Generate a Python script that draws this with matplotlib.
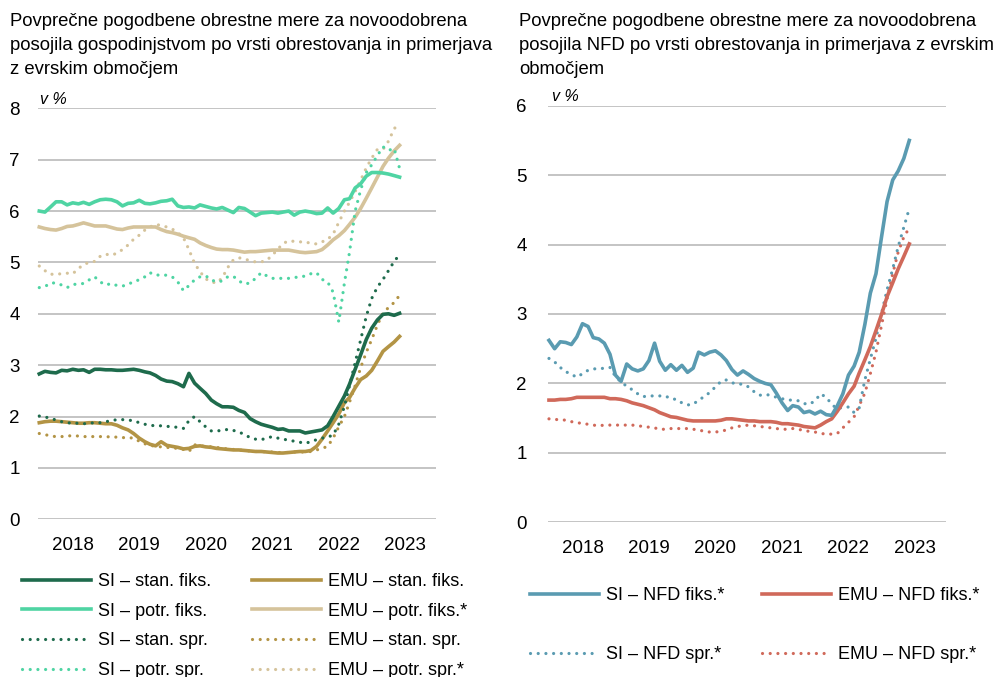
import numpy as np
import pandas as pd
import matplotlib
matplotlib.use("Agg")
import matplotlib.pyplot as plt

plt.rcParams['font.family'] = ['Liberation Sans', 'DejaVu Sans']

# monthly data, Jul 2017 - Dec 2022
dates = pd.date_range('2017-07-01', periods=66, freq='MS')

si_stan_fiks = [2.83, 2.88, 2.86, 2.85, 2.90, 2.89, 2.92, 2.90, 2.91, 2.86, 2.92, 2.92,
                2.91, 2.91, 2.90, 2.90, 2.91, 2.92, 2.90, 2.87, 2.85, 2.80, 2.73, 2.69,
                2.68, 2.64, 2.58, 2.84, 2.65, 2.55, 2.45, 2.32, 2.25, 2.19, 2.19, 2.18,
                2.12, 2.08, 1.96, 1.90, 1.85, 1.82, 1.79, 1.75, 1.76, 1.72, 1.72, 1.72,
                1.68, 1.70, 1.72, 1.74, 1.82, 2.00, 2.20, 2.40, 2.63, 2.92, 3.20, 3.50,
                3.72, 3.88, 3.99, 4.00, 3.97, 4.01]
si_potr_fiks = [6.00, 5.98, 6.08, 6.18, 6.18, 6.12, 6.16, 6.14, 6.17, 6.13, 6.18, 6.22,
                6.23, 6.22, 6.18, 6.10, 6.15, 6.16, 6.21, 6.15, 6.14, 6.16, 6.19, 6.20,
                6.23, 6.10, 6.07, 6.08, 6.06, 6.12, 6.09, 6.06, 6.04, 6.07, 6.02, 5.97,
                6.07, 6.05, 5.98, 5.91, 5.96, 5.97, 5.98, 5.96, 5.98, 6.00, 5.92, 5.98,
                6.00, 5.98, 5.95, 5.96, 6.06, 5.96, 6.05, 6.22, 6.24, 6.45, 6.53, 6.68,
                6.75, 6.75, 6.74, 6.72, 6.69, 6.66]
si_stan_spr = [2.01, 1.99, 1.97, 1.93, 1.90, 1.88, 1.87, 1.87, 1.86, 1.87, 1.88, 1.88,
               1.90, 1.92, 1.94, 1.94, 1.93, 1.92, 1.88, 1.85, 1.83, 1.82, 1.82, 1.81,
               1.80, 1.79, 1.77, 1.92, 2.00, 1.90, 1.80, 1.72, 1.72, 1.73, 1.75, 1.73,
               1.70, 1.65, 1.59, 1.56, 1.55, 1.58, 1.61, 1.58, 1.56, 1.54, 1.52, 1.50,
               1.48, 1.51, 1.55, 1.58, 1.60, 1.64, 1.85, 2.20, 2.60, 3.05, 3.49, 3.95,
               4.30, 4.52, 4.67, 4.84, 5.02, 5.15]
si_potr_spr = [4.51, 4.53, 4.60, 4.60, 4.56, 4.51, 4.57, 4.58, 4.59, 4.66, 4.72, 4.62,
               4.56, 4.59, 4.55, 4.54, 4.57, 4.63, 4.66, 4.72, 4.80, 4.75, 4.76, 4.75,
               4.72, 4.62, 4.45, 4.55, 4.66, 4.72, 4.74, 4.66, 4.62, 4.64, 4.72, 4.73,
               4.64, 4.58, 4.60, 4.69, 4.80, 4.74, 4.69, 4.69, 4.69, 4.69, 4.70, 4.73,
               4.73, 4.78, 4.80, 4.67, 4.62, 4.42, 3.84, 4.60, 5.20, 6.00, 6.41, 6.75,
               6.90, 7.08, 7.25, 7.18, 7.22, 6.83]
emu_stan_fiks = [1.88, 1.90, 1.91, 1.91, 1.90, 1.89, 1.88, 1.87, 1.87, 1.88, 1.88, 1.87,
                 1.86, 1.86, 1.83, 1.78, 1.74, 1.67, 1.58, 1.51, 1.46, 1.43, 1.51, 1.44,
                 1.42, 1.40, 1.37, 1.38, 1.42, 1.43, 1.41, 1.40, 1.38, 1.37, 1.36, 1.35,
                 1.35, 1.34, 1.33, 1.32, 1.32, 1.31, 1.30, 1.29, 1.29, 1.30, 1.31, 1.32,
                 1.32, 1.34, 1.42, 1.56, 1.72, 1.88, 2.05, 2.27, 2.37, 2.56, 2.72, 2.79,
                 2.90, 3.08, 3.27, 3.36, 3.45, 3.56]
emu_potr_fiks = [5.69, 5.66, 5.64, 5.63, 5.66, 5.70, 5.71, 5.74, 5.77, 5.74, 5.71, 5.71,
                 5.71, 5.68, 5.65, 5.64, 5.67, 5.69, 5.69, 5.69, 5.69, 5.69, 5.64, 5.60,
                 5.58, 5.55, 5.51, 5.48, 5.45, 5.38, 5.33, 5.29, 5.26, 5.25, 5.25, 5.24,
                 5.22, 5.20, 5.21, 5.21, 5.22, 5.23, 5.24, 5.24, 5.24, 5.24, 5.22, 5.20,
                 5.19, 5.20, 5.21, 5.25, 5.34, 5.44, 5.52, 5.62, 5.74, 5.88, 6.05, 6.25,
                 6.45, 6.66, 6.87, 7.03, 7.17, 7.28]
emu_stan_spr = [1.67, 1.65, 1.62, 1.61, 1.61, 1.62, 1.63, 1.62, 1.61, 1.61, 1.61, 1.61,
                1.61, 1.60, 1.60, 1.59, 1.59, 1.58, 1.52, 1.47, 1.44, 1.42, 1.41, 1.40,
                1.39, 1.38, 1.36, 1.32, 1.45, 1.43, 1.42, 1.41, 1.40, 1.38, 1.37, 1.36,
                1.35, 1.34, 1.33, 1.32, 1.32, 1.31, 1.31, 1.30, 1.30, 1.30, 1.31, 1.31,
                1.31, 1.32, 1.35, 1.38, 1.42, 1.58, 1.80, 2.00, 2.28, 2.60, 2.95, 3.25,
                3.50, 3.78, 4.02, 4.12, 4.22, 4.36]
emu_potr_spr = [4.93, 4.84, 4.77, 4.77, 4.78, 4.79, 4.78, 4.88, 4.96, 5.00, 5.02, 5.12,
                5.16, 5.14, 5.18, 5.25, 5.34, 5.45, 5.53, 5.63, 5.69, 5.74, 5.72, 5.69,
                5.65, 5.58, 5.48, 5.25, 4.98, 4.82, 4.68, 4.62, 4.60, 4.70, 4.90, 5.05,
                5.09, 5.07, 5.03, 5.01, 5.01, 5.04, 5.14, 5.26, 5.37, 5.42, 5.41, 5.40,
                5.40, 5.37, 5.36, 5.40, 5.45, 5.55, 5.78, 6.00, 6.17, 6.38, 6.60, 6.84,
                7.03, 7.20, 7.20, 7.36, 7.60, 7.72]

si_nfd_fiks = [2.62, 2.50, 2.60, 2.59, 2.56, 2.67, 2.86, 2.82, 2.66, 2.64, 2.58, 2.42,
               2.12, 2.03, 2.28, 2.21, 2.18, 2.21, 2.33, 2.58, 2.32, 2.19, 2.27, 2.19,
               2.26, 2.16, 2.22, 2.45, 2.41, 2.45, 2.47, 2.41, 2.33, 2.20, 2.12, 2.18,
               2.13, 2.07, 2.03, 2.00, 1.98, 1.86, 1.72, 1.61, 1.68, 1.66, 1.58, 1.60,
               1.56, 1.60, 1.55, 1.54, 1.68, 1.85, 2.12, 2.25, 2.45, 2.85, 3.30, 3.58,
               4.10, 4.62, 4.93, 5.06, 5.24, 5.50]
si_nfd_spr = [2.36, 2.31, 2.23, 2.17, 2.13, 2.09, 2.14, 2.19, 2.21, 2.21, 2.22, 2.23,
              2.10, 2.02, 1.96, 1.91, 1.85, 1.81, 1.82, 1.82, 1.82, 1.82, 1.78, 1.77,
              1.72, 1.69, 1.70, 1.76, 1.81, 1.87, 1.95, 2.03, 2.05, 2.01, 1.99, 1.99,
              1.95, 1.88, 1.83, 1.84, 1.83, 1.80, 1.78, 1.76, 1.76, 1.75, 1.71, 1.70,
              1.75, 1.85, 1.80, 1.70, 1.63, 1.66, 1.66, 1.58, 1.65, 2.05, 2.35, 2.65,
              3.00, 3.35, 3.65, 3.97, 4.25, 4.52]
emu_nfd_fiks = [1.76, 1.76, 1.77, 1.77, 1.78, 1.80, 1.80, 1.80, 1.80, 1.80, 1.80, 1.78,
                1.78, 1.77, 1.75, 1.72, 1.70, 1.68, 1.65, 1.62, 1.58, 1.55, 1.52, 1.51,
                1.49, 1.47, 1.46, 1.46, 1.46, 1.46, 1.46, 1.47, 1.49, 1.49, 1.48, 1.47,
                1.46, 1.46, 1.45, 1.45, 1.45, 1.44, 1.42, 1.42, 1.41, 1.40, 1.38, 1.37,
                1.36, 1.40, 1.45, 1.49, 1.60, 1.72, 1.85, 1.96, 2.15, 2.34, 2.53, 2.76,
                2.99, 3.25, 3.45, 3.65, 3.83, 4.01]
emu_nfd_spr = [1.49, 1.48, 1.48, 1.47, 1.45, 1.43, 1.43, 1.41, 1.40, 1.39, 1.40, 1.40,
               1.40, 1.40, 1.40, 1.40, 1.39, 1.38, 1.37, 1.36, 1.34, 1.34, 1.35, 1.35,
               1.35, 1.35, 1.34, 1.33, 1.31, 1.30, 1.30, 1.31, 1.33, 1.36, 1.38, 1.39,
               1.40, 1.39, 1.38, 1.37, 1.36, 1.35, 1.34, 1.34, 1.35, 1.34, 1.32, 1.31,
               1.30, 1.28, 1.27, 1.27, 1.28, 1.36, 1.44, 1.52, 1.68, 1.86, 2.14, 2.45,
               2.83, 3.22, 3.58, 3.89, 4.11, 4.24]

years = [2018, 2019, 2020, 2021, 2022, 2023]

DARK_GREEN = '#1e6b4c'
LIGHT_GREEN = '#4fd4a3'
GOLD = '#b39445'
TAN = '#d5c39b'
BLUE = '#5a9bb1'
RED = '#d0695a'

DOT = (0, (0.01, 2.4))

left_series = [
    (si_stan_fiks, DARK_GREEN, '-', 'SI – stan. fiks.'),
    (si_potr_fiks, LIGHT_GREEN, '-', 'SI – potr. fiks.'),
    (si_stan_spr, DARK_GREEN, DOT, 'SI – stan. spr.'),
    (si_potr_spr, LIGHT_GREEN, DOT, 'SI – potr. spr.'),
    (emu_stan_fiks, GOLD, '-', 'EMU – stan. fiks.'),
    (emu_potr_fiks, TAN, '-', 'EMU – potr. fiks.*'),
    (emu_stan_spr, GOLD, DOT, 'EMU – stan. spr.'),
    (emu_potr_spr, TAN, DOT, 'EMU – potr. spr.*'),
]
# drawing order (back to front)
left_order = [7, 5, 3, 1, 6, 4, 2, 0]

right_series = [
    (si_nfd_fiks, BLUE, '-', 'SI – NFD fiks.*'),
    (si_nfd_spr, BLUE, DOT, 'SI – NFD spr.*'),
    (emu_nfd_fiks, RED, '-', 'EMU – NFD fiks.*'),
    (emu_nfd_spr, RED, DOT, 'EMU – NFD spr.*'),
]
right_order = [3, 1, 2, 0]

W, H = 1005, 677
fig = plt.figure(figsize=(W / 100, H / 100), dpi=100)


def px_axes(x0, y0, x1, y1):
    return fig.add_axes([x0 / W, 1 - y1 / H, (x1 - x0) / W, (y1 - y0) / H])


def style_axes(ax, ymax, ypad):
    ax.set_ylim(0, ymax)
    ax.set_yticks(range(0, ymax + 1))
    ax.set_xlim(pd.Timestamp('2017-06-24'), pd.Timestamp('2023-06-19'))
    ax.set_xticks([pd.Timestamp(f'{y}-01-01') for y in years])
    ax.set_xticklabels([str(y) for y in years])
    for s in ax.spines.values():
        s.set_visible(False)
    ax.grid(axis='y', color='#bfbfbf', lw=1.3)
    ax.set_axisbelow(True)
    ax.tick_params(axis='y', length=0, pad=ypad, labelsize=13.5)
    ax.tick_params(axis='x', length=0, pad=13, labelsize=13.5)


def draw(ax, series, order):
    handles = [None] * len(series)
    for k in order:
        vals, col, ls, lab = series[k]
        if ls == '-':
            h, = ax.plot(dates, vals, color=col, lw=2.6, ls='-', label=lab,
                         solid_joinstyle='round', clip_on=False)
        else:
            h, = ax.plot(dates, vals, color=col, lw=2.3, ls=ls, label=lab,
                         dash_capstyle='round', clip_on=False)
        handles[k] = h
    return handles


# left panel
ax1 = px_axes(38, 108.3, 436, 519.3)
style_axes(ax1, 8, 13)
h1 = draw(ax1, left_series, left_order)
ax1.text(0.005, 1.003, 'v %', transform=ax1.transAxes, fontsize=11.5, style='italic',
         ha='left', va='bottom')

# right panel
ax2 = px_axes(547.7, 105.7, 945.7, 522.3)
style_axes(ax2, 6, 15)
h2 = draw(ax2, right_series, right_order)
ax2.text(0.012, 1.003, 'v %', transform=ax2.transAxes, fontsize=11.5, style='italic',
         ha='left', va='bottom')

# titles
fig.text(10 / W, 1 - 13 / H,
         'Povprečne pogodbene obrestne mere za novoodobrena\n'
         'posojila gospodinjstvom po vrsti obrestovanja in primerjava\n'
         'z evrskim območjem', fontsize=13.3, va='top', ha='left', linespacing=1.52)
fig.text(519 / W, 1 - 13 / H,
         'Povprečne pogodbene obrestne mere za novoodobrena\n'
         'posojila NFD po vrsti obrestovanja in primerjava z evrskim\n'
         'območjem', fontsize=13.3, va='top', ha='left', linespacing=1.52)


def add_legend(handles, x, y, spacing):
    leg = fig.legend(handles=handles, loc='upper left',
                     bbox_to_anchor=(x / W, 1 - y / H), frameon=False,
                     fontsize=13, handlelength=3.8, handletextpad=0.4,
                     labelspacing=spacing, borderpad=0, borderaxespad=0)
    return leg


add_legend(h1[0:4], 22, 573, 0.70)
add_legend(h1[4:8], 252, 573, 0.70)
add_legend(h2[0:2], 530, 587, 2.35)
add_legend(h2[2:4], 762, 587, 2.35)

fig.savefig('out.png', dpi=100)
